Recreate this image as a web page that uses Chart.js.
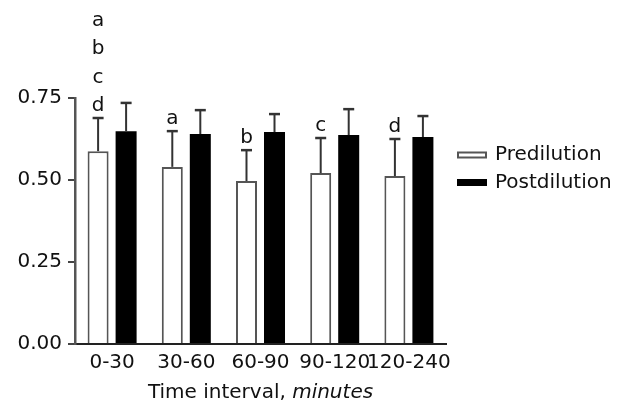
<!DOCTYPE html>
<html>
<head>
<meta charset="utf-8">
<style>
  html, body { margin: 0; padding: 0; background: #fff; }
  #wrap { width: 628px; height: 408px; }
</style>
<script src="https://cdn.jsdelivr.net/npm/chart.js@4.4.1/dist/chart.umd.min.js"></script>
</head>
<body>
<div id="wrap"><canvas id="c" width="628" height="408"></canvas></div>
<script>
const categories = ["0-30", "30-60", "60-90", "90-120", "120-240"];
const preMeans = [0.588, 0.540, 0.497, 0.521, 0.512];
const preSD = [0.101, 0.109, 0.094, 0.107, 0.113];
const postMeans = [0.649, 0.640, 0.646, 0.637, 0.631];
const postSD = [0.086, 0.073, 0.055, 0.079, 0.064];
const sigLetters = [["a", "b", "c", "d"], ["a"], ["b"], ["c"], ["d"]];
const yTicks = [0, 0.25, 0.5, 0.75];
const seriesNames = ["Predilution", "Postdilution"];
const axisTitle = ["Time interval, ", "minutes"];

const FONT = "DejaVu Sans";
const INK = "#111";
const AX = "#333";

const errPlugin = {
  id: "errbars",
  afterDatasetsDraw(chart) {
    const ctx = chart.ctx;
    const y = chart.scales.y;
    const sds = [preSD, postSD];
    ctx.save();
    ctx.strokeStyle = AX;
    chart.data.datasets.forEach((ds, di) => {
      const meta = chart.getDatasetMeta(di);
      meta.data.forEach((bar, i) => {
        const top = y.getPixelForValue(ds.data[i] + sds[di][i]);
        const base = bar.y;
        ctx.lineWidth = 2;
        ctx.beginPath();
        ctx.moveTo(bar.x, base);
        ctx.lineTo(bar.x, top);
        ctx.stroke();
        ctx.lineWidth = 2.5;
        ctx.beginPath();
        ctx.moveTo(bar.x - 5.5, top);
        ctx.lineTo(bar.x + 5.5, top);
        ctx.stroke();
        if (di === 0) {
          const letters = sigLetters[i];
          ctx.fillStyle = INK;
          ctx.font = "20px '" + FONT + "'";
          ctx.textAlign = "center";
          ctx.textBaseline = "alphabetic";
          for (let k = 0; k < letters.length; k++) {
            const ly = top - 7 - (letters.length - 1 - k) * 28.5;
            ctx.fillText(letters[k], bar.x, ly);
          }
        }
      });
    });
    ctx.restore();
  },
  afterDraw(chart) {
    const ctx = chart.ctx;
    const area = chart.chartArea;
    ctx.save();
    // legend
    const lx = 457, ly0 = 155, step = 27.5;
    ctx.font = "20px '" + FONT + "'";
    ctx.textBaseline = "middle";
    ctx.textAlign = "left";
    chart.data.datasets.forEach((ds, di) => {
      const cy = ly0 + di * step;
      if (di === 0) {
        ctx.fillStyle = "#fff";
        ctx.fillRect(lx, cy - 3.5, 30, 7);
        ctx.strokeStyle = "#555";
        ctx.lineWidth = 2;
        ctx.strokeRect(lx + 1, cy - 3.5 + 1, 28, 5);
      } else {
        ctx.fillStyle = "#000";
        ctx.fillRect(lx, cy - 3.5, 30, 7);
      }
      ctx.fillStyle = INK;
      ctx.fillText(ds.label, lx + 38, cy);
    });
    // axis title (mixed style)
    const cx = (area.left + area.right) / 2;
    ctx.font = "20px '" + FONT + "'";
    const w1 = ctx.measureText(axisTitle[0]).width;
    ctx.font = "italic 20px '" + FONT + "'";
    const w2 = ctx.measureText(axisTitle[1]).width;
    const sx = cx - (w1 + w2) / 2;
    ctx.textBaseline = "middle";
    ctx.textAlign = "left";
    ctx.fillStyle = INK;
    ctx.font = "20px '" + FONT + "'";
    ctx.fillText(axisTitle[0], sx, 393);
    ctx.font = "italic 20px '" + FONT + "'";
    ctx.fillText(axisTitle[1], sx + w1, 393);
    ctx.restore();
  }
};

new Chart(document.getElementById("c"), {
  type: "bar",
  data: {
    labels: categories,
    datasets: [
      {
        label: seriesNames[0],
        data: preMeans,
        backgroundColor: "#ffffff",
        borderColor: "#555",
        borderWidth: 2,
        borderSkipped: "start",
        categoryPercentage: 0.755,
        barPercentage: 0.75
      },
      {
        label: seriesNames[1],
        data: postMeans,
        backgroundColor: "#000000",
        borderWidth: 0,
        categoryPercentage: 0.755,
        barPercentage: 0.75
      }
    ]
  },
  options: {
    responsive: false,
    animation: false,
    devicePixelRatio: 1,
    layout: { padding: { left: 15, right: 182, top: 98, bottom: 0 } },
    plugins: {
      legend: { display: false },
      tooltip: { enabled: false }
    },
    scales: {
      x: {
        offset: true,
        grid: { display: false, drawTicks: false },
        border: { display: true, color: "#222", width: 2 },
        ticks: {
          color: INK,
          font: { family: FONT, size: 20 },
          padding: 7,
          maxRotation: 0,
          autoSkip: false
        },
        afterFit(s) { s.height = 64; }
      },
      y: {
        min: 0,
        max: 0.75,
        afterBuildTicks(s) { s.ticks = yTicks.map(v => ({ value: v })); },
        grid: { drawOnChartArea: false, drawTicks: true, tickLength: 7, color: "#444", lineWidth: 2 },
        border: { display: true, color: "#555", width: 2.5 },
        ticks: {
          color: INK,
          font: { family: FONT, size: 20 },
          padding: 6,
          callback: v => Number(v).toFixed(2)
        },
        afterFit(s) { s.width = 60; }
      }
    }
  },
  plugins: [errPlugin]
});
</script>
</body>
</html>
